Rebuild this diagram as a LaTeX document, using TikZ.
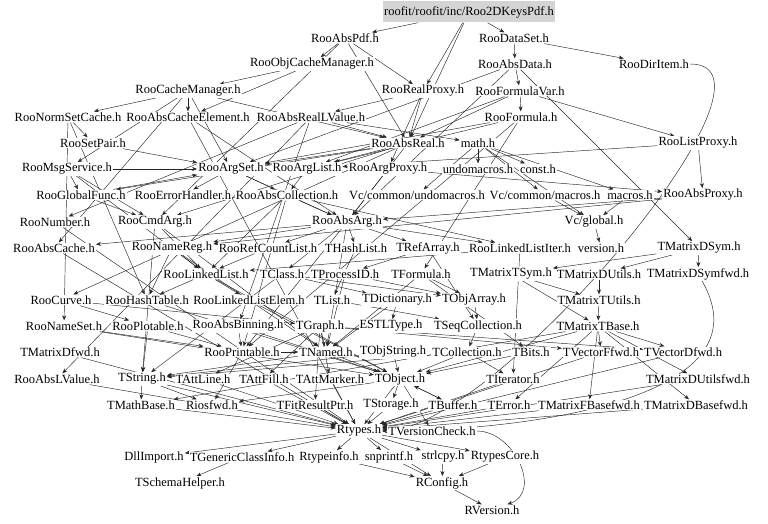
\documentclass[tikz,border=0pt]{standalone}
\usepackage{fontspec}
\setmainfont{Liberation Serif}
\usetikzlibrary{arrows.meta,backgrounds}
\begin{document}
\begin{tikzpicture}[x=1pt,y=-1pt,
  file/.style={fill=white,inner sep=1pt,font=\fontsize{12.5}{14}\selectfont},
  topfile/.style={file,fill=black!17,minimum width=168pt,minimum height=21pt},
  every edge/.style={draw=black!85,line width=0.45pt,-{Stealth[length=5pt,width=4pt]}}]
\useasboundingbox (0,0) rectangle (768,524);
% files, row by row
\node[topfile] (keys) at (469,12) {roofit/roofit/inc/Roo2DKeysPdf.h};
\node[file] (absPdf) at (345,38) {RooAbsPdf.h};
\node[file] (dataSet) at (514,38) {RooDataSet.h};
\node[file] (objCache) at (312,64) {RooObjCacheManager.h};
\node[file] (absData) at (515,64) {RooAbsData.h};
\node[file] (dirItem) at (654,64) {RooDirItem.h};
\node[file] (cacheMgr) at (188,91) {RooCacheManager.h};
\node[file] (realProxy) at (423,91) {RooRealProxy.h};
\node[file] (formulaVar) at (520,91) {RooFormulaVar.h};
\node[file] (normSet) at (68,117) {RooNormSetCache.h};
\node[file] (absCacheEl) at (188,117) {RooAbsCacheElement.h};
\node[file] (absRealLV) at (311,117) {RooAbsRealLValue.h};
\node[file] (formula) at (521,117) {RooFormula.h};
\node[file] (setPair) at (93,143) {RooSetPair.h};
\node[file] (absReal) at (408,143) {RooAbsReal.h};
\node[file] (mathh) at (478,143) {math.h};
\node[file] (listProxy) at (698,143) {RooListProxy.h};
\node[file] (msgSvc) at (67,169) {RooMsgService.h};
\node[file] (argSet) at (231,169) {RooArgSet.h};
\node[file] (argList) at (307,169) {RooArgList.h};
\node[file] (argProxy) at (388,169) {RooArgProxy.h};
\node[file] (undomac) at (478,169) {undomacros.h};
\node[file] (consth) at (538,169) {const.h};
\node[file] (globalFunc) at (81,195) {RooGlobalFunc.h};
\node[file] (errHandler) at (183,195) {RooErrorHandler.h};
\node[file] (absColl) at (287,195) {RooAbsCollection.h};
\node[file] (vcUndomac) at (417,195) {Vc/common/undomacros.h};
\node[file] (vcMacros) at (545,195) {Vc/common/macros.h};
\node[file] (macrosh) at (630,195) {macros.h};
\node[file] (absProxy) at (703,195) {RooAbsProxy.h};
\node[file] (number) at (55,222) {RooNumber.h};
\node[file] (cmdArg) at (155,222) {RooCmdArg.h};
\node[file] (absArg) at (347,222) {RooAbsArg.h};
\node[file] (vcGlobal) at (594,222) {Vc/global.h};
\node[file] (absCache) at (54,248) {RooAbsCache.h};
\node[file] (nameReg) at (172,248) {RooNameReg.h};
\node[file] (refCount) at (268,248) {RooRefCountList.h};
\node[file] (hashList) at (356,248) {THashList.h};
\node[file] (refArray) at (428,248) {TRefArray.h};
\node[file] (llIter) at (520,248) {RooLinkedListIter.h};
\node[file] (versionh) at (601,248) {version.h};
\node[file] (mDSym) at (699,248) {TMatrixDSym.h};
\node[file] (linkedList) at (206,274) {RooLinkedList.h};
\node[file] (tclass) at (282,274) {TClass.h};
\node[file] (processID) at (345,274) {TProcessID.h};
\node[file] (tformula) at (421,274) {TFormula.h};
\node[file] (mTSym) at (511,274) {TMatrixTSym.h};
\node[file] (mDUtils) at (599,274) {TMatrixDUtils.h};
\node[file] (mDSymfwd) at (698,274) {TMatrixDSymfwd.h};
\node[file] (curve) at (61,300) {RooCurve.h};
\node[file] (hashTable) at (147,300) {RooHashTable.h};
\node[file] (llElem) at (249,300) {RooLinkedListElem.h};
\node[file] (tlist) at (332,300) {TList.h};
\node[file] (tdict) at (397,300) {TDictionary.h};
\node[file] (objArray) at (474,300) {TObjArray.h};
\node[file] (mTUtils) at (599,300) {TMatrixTUtils.h};
\node[file] (nameSet) at (64,326) {RooNameSet.h};
\node[file] (plotable) at (148,326) {RooPlotable.h};
\node[file] (absBinning) at (238,326) {RooAbsBinning.h};
\node[file] (tgraph) at (320,326) {TGraph.h};
\node[file] (estl) at (391,326) {ESTLType.h};
\node[file] (seqColl) at (478,326) {TSeqCollection.h};
\node[file] (mTBase) at (598,326) {TMatrixTBase.h};
\node[file] (mDfwd) at (60,352) {TMatrixDfwd.h};
\node[file] (printable) at (242,352) {RooPrintable.h};
\node[file] (tnamed) at (326,352) {TNamed.h};
\node[file] (objString) at (393,352) {TObjString.h};
\node[file] (tcoll) at (467,352) {TCollection.h};
\node[file] (tbits) at (531,352) {TBits.h};
\node[file] (vFfwd) at (601,352) {TVectorFfwd.h};
\node[file] (vDfwd) at (683,352) {TVectorDfwd.h};
\node[file] (absLV) at (57,379) {RooAbsLValue.h};
\node[file] (tstring) at (142,379) {TString.h};
\node[file] (attLine) at (203,379) {TAttLine.h};
\node[file] (attFill) at (264,379) {TAttFill.h};
\node[file] (attMarker) at (330,379) {TAttMarker.h};
\node[file] (tobject) at (400,379) {TObject.h};
\node[file] (titer) at (513,379) {TIterator.h};
\node[file] (mDUfwd) at (698,379) {TMatrixDUtilsfwd.h};
\node[file] (mathBase) at (141,405) {TMathBase.h};
\node[file] (riosfwd) at (212,405) {Riosfwd.h};
\node[file] (fitRes) at (315,405) {TFitResultPtr.h};
\node[file] (storage) at (391,405) {TStorage.h};
\node[file] (tbuffer) at (453,405) {TBuffer.h};
\node[file] (terror) at (509,405) {TError.h};
\node[file] (mFBfwd) at (589,405) {TMatrixFBasefwd.h};
\node[file] (mDBfwd) at (696,405) {TMatrixDBasefwd.h};
\node[file] (rtypes) at (359,431) {Rtypes.h};
\node[file] (verCheck) at (432,431) {TVersionCheck.h};
\node[file] (dllImport) at (154,457) {DllImport.h};
\node[file] (genCI) at (242,457) {TGenericClassInfo.h};
\node[file] (rtypeinfo) at (329,457) {Rtypeinfo.h};
\node[file] (snprintfh) at (389,457) {snprintf.h};
\node[file] (strlcpyh) at (443,457) {strlcpy.h};
\node[file] (rtypesCore) at (505,457) {RtypesCore.h};
\node[file] (schema) at (180,483) {TSchemaHelper.h};
\node[file] (rconfig) at (442,483) {RConfig.h};
\node[file] (rversion) at (492,510) {RVersion.h};
% includes
\begin{pgfonlayer}{background}
\path (keys) edge (absPdf) edge (dataSet) edge (realProxy) edge (absReal);
\path (absPdf) edge (objCache) edge (absReal) edge (realProxy) edge (cmdArg);
\path (dataSet) edge (absData) edge (dirItem);
\path (dirItem) edge[out=0,in=0,looseness=0.6] (rtypes);
\path (objCache) edge (cacheMgr) edge (absCacheEl);
\path (cacheMgr) edge (normSet) edge (absCacheEl) edge (msgSvc) edge (absCache) edge (argSet) edge (absReal);
\path (normSet) edge (setPair) edge (nameSet) edge (hashTable);
\path (absCacheEl) edge (absArg) edge (rtypes);
\path (setPair) edge (argSet);
\path (absRealLV) edge (absReal) edge (number) edge (absLV) edge (absBinning) edge (mathh);
\path (absReal) edge (absArg) edge (argList) edge (argSet) edge (cmdArg) edge (curve) edge (globalFunc);
\path (realProxy) edge (absReal) edge (argProxy) edge (absRealLV);
\path (absData) edge (formulaVar) edge (absArg) edge (argSet) edge (mDSym);
\path (formulaVar) edge (formula) edge (listProxy) edge (absReal) edge (argList);
\path (formula) edge (printable) edge (argList) edge (argSet) edge (tformula);
\path (listProxy) edge (absProxy) edge (argList);
\path (mathh) edge (undomac) edge (consth) edge (macrosh) edge (vcGlobal) edge (vcMacros) edge (vcUndomac);
\path (msgSvc) edge (cmdArg) edge (globalFunc) edge (argSet) edge (linkedList);
\path (argSet) edge (absColl) edge (errHandler) edge (absArg);
\path (argList) edge (absColl);
\path (argProxy) edge (absProxy) edge (absArg);
\path (globalFunc) edge (cmdArg) edge (argSet);
\path (absColl) edge (absArg) edge (printable) edge (linkedList) edge (llIter);
\path (vcMacros) edge (vcGlobal);
\path (macrosh) edge (vcGlobal);
\path (vcGlobal) edge (versionh);
\path (absProxy) edge (absArg) edge (nameReg);
\path (number) edge (rtypes);
\path (cmdArg) edge (tnamed) edge (tstring) edge (linkedList);
\path (absArg) edge (tnamed) edge (hashList) edge (refArray) edge (refCount) edge (absCache) edge (llIter) edge (nameReg) edge (printable) edge (tclass);
\path (absCache) edge (rtypes);
\path (nameReg) edge (tnamed) edge (hashTable) edge (linkedList);
\path (refCount) edge (linkedList);
\path (hashList) edge (tlist);
\path (refArray) edge (seqColl) edge (processID);
\path (llIter) edge (titer) edge (linkedList);
\path (mDSym) edge (mTSym) edge (mDSymfwd) edge (mDUtils);
\path (linkedList) edge (tobject) edge (llElem) edge (hashTable);
\path (tclass) edge (tdict) edge (tstring) edge (objArray);
\path (processID) edge (tnamed) edge (objArray);
\path (tformula) edge (tnamed) edge (tbits) edge (objArray);
\path (mTSym) edge (mTBase) edge (mTUtils);
\path (mDUtils) edge (mTUtils);
\path (mDSymfwd) edge[out=-60,in=0] (rtypes);
\path (curve) edge (tgraph) edge (plotable);
\path (hashTable) edge (tobject);
\path (llElem) edge (tobject);
\path (tlist) edge (seqColl);
\path (tdict) edge (tnamed) edge (estl);
\path (objArray) edge (seqColl);
\path (mTUtils) edge (mTBase);
\path (nameSet) edge (tobject) edge (printable);
\path (plotable) edge (printable) edge (tstring);
\path (absBinning) edge (printable) edge (tobject);
\path (tgraph) edge (tnamed) edge (attLine) edge (attFill) edge (attMarker) edge (vFfwd) edge (vDfwd) edge (fitRes);
\path (seqColl) edge (tcoll);
\path (mTBase) edge (tobject) edge (mathBase) edge (mFBfwd) edge (mDBfwd) edge (vFfwd) edge (vDfwd) edge (terror) edge (mDUfwd);
\path (mDfwd) edge (rtypes);
\path (printable) edge (riosfwd) edge (tnamed);
\path (tnamed) edge (tobject) edge (tstring);
\path (objString) edge (tobject) edge (tstring);
\path (tcoll) edge (tobject) edge (titer) edge (tstring);
\path (tbits) edge (tobject);
\path (vFfwd) edge (rtypes);
\path (vDfwd) edge (rtypes);
\path (absLV) edge (rtypes);
\path (tstring) edge (riosfwd) edge (mathBase) edge (rtypes);
\path (attLine) edge (rtypes);
\path (attFill) edge (rtypes);
\path (attMarker) edge (rtypes);
\path (tobject) edge (rtypes) edge (storage) edge (verCheck) edge (riosfwd) edge (tbuffer);
\path (titer) edge (rtypes);
\path (mDUfwd) edge (rtypes);
\path (mathBase) edge (rtypes);
\path (fitRes) edge (rtypes);
\path (storage) edge (rtypes);
\path (tbuffer) edge (tobject) edge (rtypes);
\path (terror) edge (rtypes);
\path (mFBfwd) edge (rtypes);
\path (mDBfwd) edge (rtypes);
\path (rtypes) edge (rconfig) edge (rtypesCore) edge (dllImport) edge (snprintfh) edge (strlcpyh) edge (genCI) edge (rtypeinfo);
\path (verCheck) edge[out=0,in=20,looseness=1.2] (rversion);
\path (genCI) edge (schema);
\path (snprintfh) edge (rconfig);
\path (strlcpyh) edge (rconfig);
\path (rtypesCore) edge (rconfig);
\path (rtypeinfo) edge (rconfig);
\path (rconfig) edge (rversion);
\end{pgfonlayer}
\end{tikzpicture}
\end{document}
